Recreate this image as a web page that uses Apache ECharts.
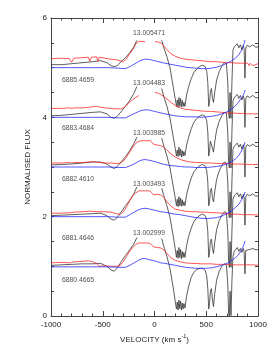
<!DOCTYPE html>
<html><head><meta charset="utf-8">
<script src="https://cdn.jsdelivr.net/npm/echarts@6/dist/echarts.min.js"></script>
<style>html,body{margin:0;padding:0;background:#fff}#c{width:273px;height:350px}</style>
</head><body><div id="c"></div>
<script>
// ---- DATA ----
const epochLabels = ['6885.4659','6883.4684','6882.4610','6881.4646','6880.4665'];
const fluxLabels = ['13.005471','13.004483','13.003985','13.003493','13.002999'];
const xTicks = [-1000,-500,0,500,1000];
const yTicks = [0,2,4,6];

const blackVel = [-1000,-900,-800,-700,-600,-520,-460,-420,-390,-360,-320,-280,-240,-200,-170,0,70,90,120,150,180,200,212,220,228,236,244,252,260,268,276,284,294,310,330,355,380,410,440,465,490,505,515,524,532,540,550,560,570,582,600,625,650,675,695,708,716,723,730,739,748,758,770,785,800,815,830,845,858,866,874,882,895,920,950,980,1000];
const black1 = [5.06,5.06,5.08,5.10,5.12,5.14,5.10,5.04,5.02,5.04,5.13,5.20,5.30,5.42,5.55,null,5.55,5.40,5.22,5.00,4.62,4.38,4.22,4.35,4.20,4.40,4.22,4.38,4.21,4.34,4.22,4.30,4.22,4.45,4.62,4.78,4.90,4.98,5.03,5.05,5.02,4.92,4.70,4.22,4.30,4.52,4.58,4.38,4.30,4.50,4.75,4.92,5.03,5.10,5.08,4.70,4.10,3.98,4.50,3.98,4.70,5.35,5.42,5.38,5.48,5.40,5.46,5.36,5.45,5.38,4.79,5.40,5.45,5.42,5.46,5.41,5.42];
const black2 = [4.03,4.04,4.06,4.08,4.10,4.11,4.07,4.00,3.98,4.02,4.12,4.22,4.34,4.48,4.62,null,4.58,4.42,4.22,3.98,3.62,3.38,3.22,3.34,3.21,3.40,3.23,3.36,3.20,3.33,3.22,3.31,3.23,3.44,3.60,3.77,3.90,3.98,4.03,4.05,4.02,3.92,3.70,3.22,3.32,3.52,3.56,3.38,3.30,3.50,3.74,3.92,4.03,4.10,4.08,3.70,3.10,2.98,3.50,2.98,3.70,4.33,4.40,4.36,4.46,4.38,4.44,4.35,4.43,4.37,3.80,4.38,4.43,4.40,4.44,4.39,4.40];
const black3 = [3.04,3.05,3.06,3.08,3.10,3.10,3.06,3.00,2.97,3.01,3.11,3.21,3.33,3.47,3.60,null,3.58,3.42,3.22,2.98,2.62,2.38,2.22,2.35,2.20,2.40,2.22,2.37,2.21,2.34,2.22,2.30,2.22,2.44,2.61,2.78,2.90,2.98,3.03,3.05,3.02,2.92,2.70,2.22,2.30,2.52,2.57,2.38,2.30,2.50,2.75,2.92,3.03,3.10,3.08,2.70,2.10,1.98,2.50,1.98,2.70,3.35,3.42,3.38,3.48,3.40,3.46,3.36,3.45,3.38,2.80,3.40,3.45,3.42,3.46,3.41,3.42];
const black4 = [2.02,2.03,2.04,2.05,2.06,2.07,2.02,1.95,1.93,1.98,2.10,2.22,2.33,2.46,2.60,null,2.57,2.42,2.22,1.98,1.62,1.36,1.18,1.32,1.16,1.38,1.18,1.34,1.15,1.30,1.18,1.28,1.18,1.42,1.60,1.77,1.90,1.98,2.03,2.05,2.02,1.92,1.70,1.18,1.28,1.50,1.55,1.36,1.26,1.48,1.74,1.92,2.03,2.10,2.08,1.70,1.10,0.98,1.50,0.98,1.70,2.35,2.42,2.38,2.48,2.40,2.46,2.36,2.45,2.38,1.83,2.40,2.45,2.42,2.46,2.41,2.42];
const black5 = [1.02,1.03,1.04,1.05,1.05,1.06,1.00,0.93,0.90,0.96,1.10,1.22,1.33,1.45,1.58,null,1.56,1.40,1.20,0.95,0.58,0.30,0.14,0.28,0.12,0.32,0.15,0.30,0.12,0.26,0.14,0.25,0.16,0.40,0.60,0.78,0.88,0.94,0.96,0.96,0.92,0.80,0.55,0.14,0.25,0.50,0.55,0.32,0.19,0.45,0.72,0.90,1.00,1.05,1.03,0.65,0.05,0.00,0.50,0.01,0.70,1.20,1.30,1.28,1.38,1.30,1.36,1.28,1.36,1.30,0.85,1.32,1.36,1.34,1.36,1.33,1.34];

const redVel = [-1000,-900,-820,-800,-780,-700,-640,-625,-610,-560,-548,-535,-480,-420,-370,-330,-300,-270,-240,-210,-180,-150,-120,-90,-60,-40,-25,-10,5,30,60,90,120,160,200,250,300,350,400,450,500,550,600,650,700,750,800,850,900,915,925,940,950,965,1000];
const red1 = [5.18,5.19,5.18,5.11,5.19,5.20,5.21,5.13,5.21,5.22,5.13,5.21,5.19,5.17,5.16,5.14,5.12,5.18,5.28,5.36,5.48,5.53,5.53,5.52,null,null,null,null,5.52,5.52,5.50,5.44,5.36,5.28,5.23,5.19,5.17,5.16,5.15,5.14,5.13,5.12,5.12,5.11,5.10,5.10,5.09,5.09,5.09,5.04,5.09,5.08,5.04,5.08,5.08];
const red2 = [4.18,4.18,4.19,4.18,4.19,4.19,4.20,4.22,4.21,4.22,4.20,4.21,4.19,4.18,4.17,4.17,4.19,4.24,4.31,4.36,4.40,4.44,null,null,null,null,null,null,4.50,4.49,4.46,4.42,4.37,4.30,4.24,4.19,4.16,4.15,4.14,4.13,4.12,4.12,4.11,4.10,4.09,4.09,4.08,4.08,4.07,4.07,4.07,4.06,4.07,4.07,4.07];
const red3 = [3.08,3.08,3.09,3.08,3.09,3.09,3.10,3.10,3.11,3.10,3.10,3.09,3.08,3.08,3.07,3.08,3.12,3.20,3.30,3.40,3.48,3.52,3.53,3.53,3.53,3.53,3.52,3.46,3.45,3.44,3.43,3.40,3.34,3.26,3.20,3.15,3.12,3.10,3.09,3.09,3.08,3.08,3.07,3.07,3.07,3.06,3.06,3.06,3.05,3.05,3.05,3.04,3.05,3.05,3.05];
const red4 = [2.07,2.07,2.08,2.08,2.09,2.10,2.11,2.10,2.11,2.10,2.11,2.10,2.10,2.09,2.06,2.05,2.10,2.20,2.32,2.42,2.48,2.52,2.52,2.52,2.52,2.51,2.50,2.44,2.45,2.45,2.44,2.39,2.30,2.21,2.15,2.13,2.11,2.10,2.10,2.09,2.09,2.08,2.08,2.07,2.06,2.05,2.05,2.04,2.04,2.03,2.04,2.03,2.04,2.03,2.03];
const red5 = [1.07,1.08,1.07,1.08,1.09,1.10,1.11,1.09,1.10,1.06,1.02,1.00,1.01,1.00,1.00,1.02,1.10,1.20,1.30,1.38,1.44,1.47,1.47,1.47,1.47,1.46,1.46,1.39,1.39,1.38,1.37,1.33,1.26,1.17,1.12,1.09,1.07,1.06,1.06,1.05,1.05,1.05,1.04,1.04,1.04,1.03,1.03,1.03,1.03,1.02,1.03,1.02,1.03,1.02,1.02];

const blueVel = [-1000,-800,-600,-450,-350,-280,-230,-180,-140,-100,-60,-20,20,60,100,150,200,250,300,350,400,450,500,550,600,650,700,740,780,810,830,850,865,875];
const blue1 = [5.00,5.00,5.00,5.00,4.99,4.98,5.03,5.09,5.14,5.17,5.17,5.15,5.13,5.11,5.09,5.07,5.05,5.03,5.01,5.00,4.99,4.98,4.98,4.99,5.01,5.04,5.09,5.13,5.19,5.25,5.31,5.39,5.48,5.56];
const blue2 = [4.00,4.00,4.00,4.00,3.99,3.99,4.04,4.09,4.13,4.15,4.15,4.13,4.11,4.09,4.07,4.05,4.03,4.02,4.01,4.01,4.01,4.00,4.01,4.02,4.04,4.07,4.11,4.16,4.23,4.30,4.36,4.42,4.48,4.55];
const blue3 = [3.00,3.00,3.00,3.00,2.99,2.99,3.03,3.08,3.13,3.15,3.14,3.12,3.10,3.07,3.05,3.03,3.02,3.01,3.00,3.00,2.99,2.99,2.99,3.00,3.01,3.03,3.06,3.10,3.16,3.22,3.29,3.36,3.43,3.50];
const blue4 = [2.00,2.00,2.00,2.00,1.99,1.99,2.05,2.11,2.15,2.17,2.16,2.14,2.12,2.10,2.09,2.07,2.05,2.04,2.02,2.00,1.98,1.97,1.96,1.97,1.98,2.01,2.06,2.11,2.18,2.24,2.30,2.37,2.43,2.50];
const blue5 = [0.99,0.99,0.99,0.99,0.98,0.98,1.03,1.09,1.14,1.16,1.14,1.12,1.10,1.07,1.06,1.04,1.02,1.00,0.98,0.97,0.96,0.96,0.96,0.97,0.99,1.02,1.06,1.11,1.17,1.23,1.29,1.37,1.44,1.51];

// annotation anchor positions (data coords)
const epochLabelVel = -894;
const epochLabelFlux = [4.75,3.78,2.76,1.56,0.72];
const fluxLabelVel = -53;
const fluxLabelFlux = [5.70,4.69,3.68,2.66,1.66];

// ---- CHART ----
const FONT = "'Liberation Sans', Arial, sans-serif";
const AX = '#444';
function pairs(v, f){ return v.map((x,i)=>[x, f[i]===null||f[i]===undefined ? '-' : f[i]]); }
function line(name, v, f, color){
  return {name, type:'line', data:pairs(v,f), showSymbol:false, symbol:'none', connectNulls:false,
    lineStyle:{color, width:0.8}, itemStyle:{color}, silent:true, animation:false, z:2};
}
const series = [];
[black1,black2,black3,black4,black5].forEach((f,i)=>series.push(line('black'+(i+1), blackVel, f, '#333333')));
[red1,red2,red3,red4,red5].forEach((f,i)=>series.push(line('red'+(i+1), redVel, f, '#ff2a2a')));
[blue1,blue2,blue3,blue4,blue5].forEach((f,i)=>series.push(line('blue'+(i+1), blueVel, f, '#2a2aff')));
series.push({type:'scatter', symbolSize:0, silent:true, animation:false,
  data: epochLabels.map((t,i)=>({value:[epochLabelVel, epochLabelFlux[i]], name:t})),
  label:{show:true, position:'inside', align:'left', verticalAlign:'middle', formatter:p=>p.name, fontSize:6.8, color:'#222', fontFamily:FONT}, z:5});
series.push({type:'scatter', symbolSize:0, silent:true, animation:false,
  data: fluxLabels.map((t,i)=>({value:[fluxLabelVel, fluxLabelFlux[i]], name:t})),
  label:{show:true, position:'inside', align:'center', verticalAlign:'middle', formatter:p=>p.name, fontSize:6.8, color:'#222', fontFamily:FONT}, z:5});

const xCommon = {type:'value', min:-1000, max:1000, interval:500, splitLine:{show:false},
  axisLine:{show:true, onZero:false, lineStyle:{color:AX, width:1}},
  axisTick:{show:true, inside:true, length:5, lineStyle:{color:AX, width:1}},
  minorTick:{show:true, splitNumber:5, length:2.5, lineStyle:{color:AX, width:1}}};
const yCommon = {type:'value', min:0, max:6, interval:2, splitLine:{show:false},
  axisLine:{show:true, onZero:false, lineStyle:{color:AX, width:1}},
  axisTick:{show:true, inside:true, length:3, lineStyle:{color:AX, width:1}},
  minorTick:{show:true, splitNumber:4, length:3, lineStyle:{color:AX, width:1}}};

const chart = echarts.init(document.getElementById('c'), null, {renderer:'canvas'});
chart.setOption({
  animation:false, backgroundColor:'#fff',
  grid:{left:51, right:15, top:18, bottom:34},
  xAxis:[
    Object.assign({}, xCommon, {position:'bottom',
      axisLabel:{show:true, fontSize:8, color:'#222', margin:5, fontFamily:FONT,
        formatter:v=>xTicks.includes(v)?String(v):''},
      name:'VELOCITY (km s{sup|-1})', nameLocation:'middle', nameGap:17,
      nameTextStyle:{fontSize:8, color:'#222', fontFamily:FONT,
        rich:{sup:{fontSize:5.5, color:'#222', fontFamily:FONT, padding:[0,0,5,0]}}}}),
    Object.assign({}, xCommon, {position:'top', axisLabel:{show:false}})
  ],
  yAxis:[
    Object.assign({}, yCommon, {position:'left',
      axisLabel:{show:true, fontSize:8, color:'#222', margin:4, fontFamily:FONT,
        formatter:v=>yTicks.includes(v)?String(v):''},
      name:'NORMALISED FLUX', nameLocation:'middle', nameGap:12, nameRotate:90,
      nameTextStyle:{fontSize:8, color:'#222', fontFamily:FONT}}),
    Object.assign({}, yCommon, {position:'right', axisLabel:{show:false}})
  ],
  series
});
</script></body></html>
